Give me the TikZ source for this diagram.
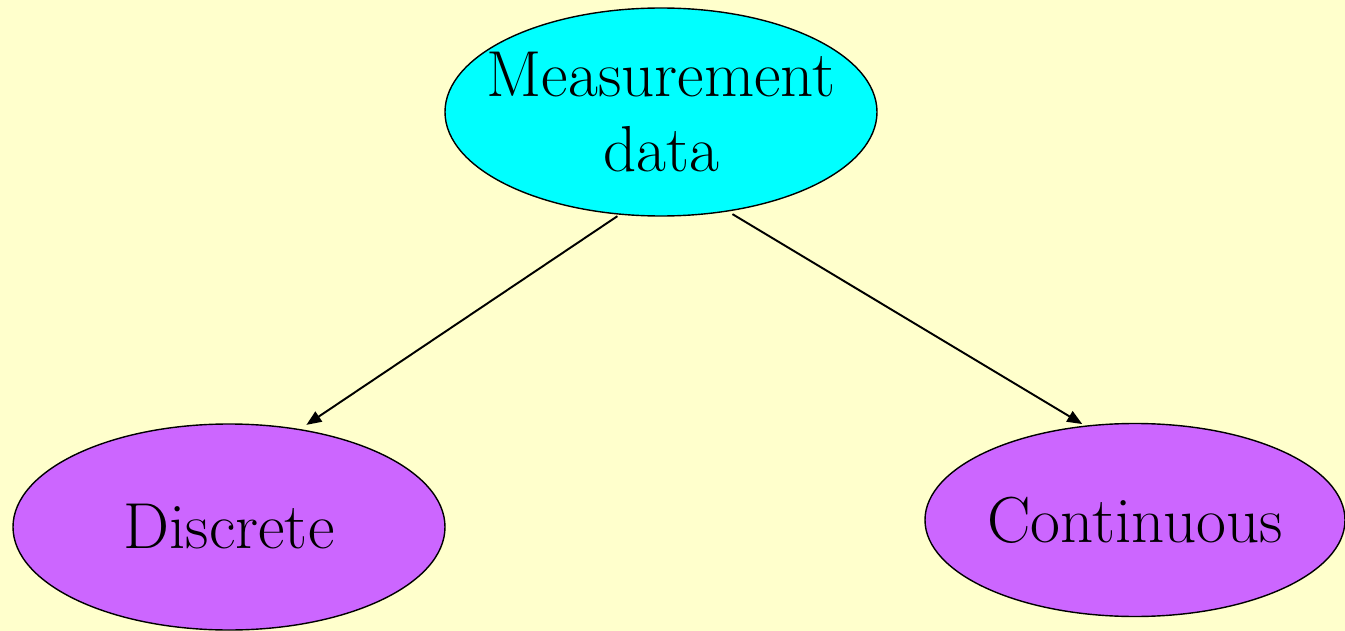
\documentclass[tikz,border=0pt]{standalone}
\usepackage{tikz}
\usetikzlibrary{arrows.meta,shapes.geometric}
\definecolor{paper}{HTML}{FFFFCC}
\definecolor{aqua}{HTML}{00FFFF}
\definecolor{violet}{HTML}{CC66FF}
\begin{document}
\begin{tikzpicture}[
  topic/.style={ellipse,draw=black,line width=0.8pt,inner xsep=-2cm,inner ysep=-1cm,
    align=center,font=\fontsize{37}{42.5}\selectfont},
  root/.style={topic,fill=aqua,minimum width=8.64cm,minimum height=4.16cm},
  leaf/.style={topic,fill=violet},
  arrow/.style={-{Triangle[length=3mm,width=2.4mm]},line width=1.1pt,draw=black}
]
\fill[paper] (0,0) rectangle (26.9,-12.62);
\useasboundingbox (0,0) rectangle (26.9,-12.62);
\node[root] (measure) at (13.22,-2.24) {Measurement\\data};
\node[leaf,minimum width=8.64cm,minimum height=4.12cm] (discrete) at (4.58,-10.54) {Discrete};
\node[leaf,minimum width=8.4cm,minimum height=3.86cm] (continuous) at (22.7,-10.4) {Continuous};
\draw[arrow,shorten <=0.05cm,shorten >=0.15cm] (measure.248.7) -- (discrete.54.6);
\draw[arrow,shorten <=0.1cm,shorten >=0.06cm] (measure.304.4) -- (continuous.118.2);
\end{tikzpicture}
\end{document}
